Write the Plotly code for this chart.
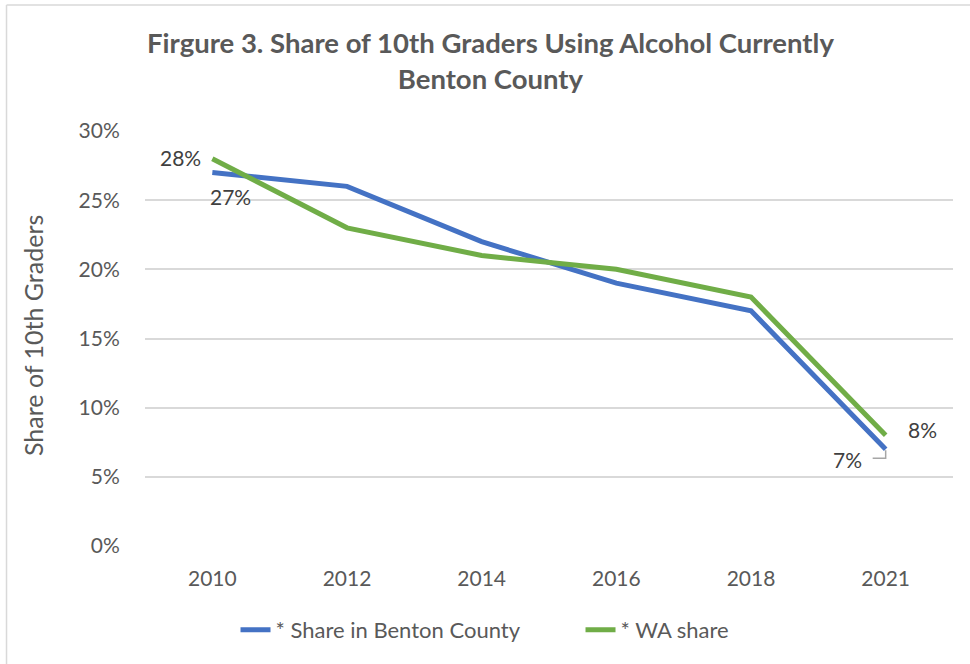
import plotly.graph_objects as go

years = ["2010", "2012", "2014", "2016", "2018", "2021"]
benton = [0.27, 0.26, 0.22, 0.19, 0.17, 0.07]
wa = [0.28, 0.23, 0.21, 0.20, 0.18, 0.08]
yticks = [0, 0.05, 0.10, 0.15, 0.20, 0.25, 0.30]

idx = list(range(len(years)))
FONT = "Lato"
TXT = "#595959"
LBL = "#404040"
BLUE = "#4472C4"
GREEN = "#70AD47"

fig = go.Figure()
fig.add_trace(go.Scatter(x=idx, y=benton, mode="lines", name="* Share in Benton County",
                         line=dict(color=BLUE, width=5)))
fig.add_trace(go.Scatter(x=idx, y=wa, mode="lines", name="* WA share",
                         line=dict(color=GREEN, width=5)))

ann = []
ann.append(dict(x=idx[0], y=wa[0], text=f"{wa[0]:.0%}", xref="x", yref="y", showarrow=False,
                xanchor="right", yanchor="middle", xshift=-9, yshift=1,
                font=dict(family=FONT, size=21, color=LBL)))
ann.append(dict(x=idx[0], y=benton[0], text=f"{benton[0]:.0%}", xref="x", yref="y", showarrow=False,
                xanchor="center", yanchor="middle", xshift=18, yshift=-24,
                font=dict(family=FONT, size=21, color=LBL)))
ann.append(dict(x=idx[-1], y=wa[-1], text=f"{wa[-1]:.0%}", xref="x", yref="y", showarrow=False,
                xanchor="left", yanchor="middle", xshift=20, yshift=6,
                font=dict(family=FONT, size=21, color=LBL)))
ann.append(dict(x=idx[-1], y=benton[-1], text=f"{benton[-1]:.0%}", xref="x", yref="y", showarrow=False,
                xanchor="right", yanchor="middle", xshift=-22, yshift=-10,
                font=dict(family=FONT, size=21, color=LBL)))
ann.append(dict(x=-0.1386, y=0.506, xref="paper", yref="paper", text="Share of 10th Graders",
                textangle=-90, showarrow=False, xanchor="center", yanchor="middle",
                font=dict(family=FONT, size=25, color=TXT)))
ann.append(dict(x=0.428, y=1.17, xref="paper", yref="paper",
                text="<b>Firgure 3. Share of 10th Graders Using Alcohol Currently<br>Benton County</b>",
                showarrow=False, xanchor="center", yanchor="middle", align="center",
                font=dict(family=FONT, size=27.5, color=TXT)))

shapes = []
lx = idx[-1] - 0.0965
shapes.append(dict(type="path", xref="x", yref="y",
                   path=f"M {lx},{benton[-1]-0.0065} L {idx[-1]},{benton[-1]-0.0065} L {idx[-1]},{benton[-1]-0.0008}",
                   line=dict(color="#A6A6A6", width=1.5)))
shapes.append(dict(type="line", xref="paper", yref="paper", x0=-0.1714, x1=-0.1714, y0=-0.3, y1=1.3036,
                   line=dict(color="#D9D9D9", width=1.5)))
shapes.append(dict(type="line", xref="paper", yref="paper", x0=-0.1714, x1=1.03, y0=1.3036, y1=1.3036,
                   line=dict(color="#D9D9D9", width=1.5)))

fig.update_layout(
    width=970, height=664,
    margin=dict(l=145, r=17, t=131, b=118),
    paper_bgcolor="white", plot_bgcolor="white",
    xaxis=dict(range=[-0.5, len(years) - 0.5], tickmode="array", tickvals=idx, ticktext=years,
               showgrid=False, zeroline=False, showline=False,
               ticks="outside", ticklen=14, tickcolor="rgba(0,0,0,0)",
               tickfont=dict(family=FONT, size=21, color=TXT)),
    yaxis=dict(range=[0, 0.30], tickmode="array", tickvals=yticks, tickformat=".0%",
               showgrid=True, gridcolor="#D9D9D9", gridwidth=1.5, zeroline=False, showline=False,
               ticks="outside", ticklen=20, tickcolor="rgba(0,0,0,0)",
               tickfont=dict(family=FONT, size=21, color=TXT)),
    legend=dict(orientation="h", x=0.539, xanchor="center", xref="paper", y=-0.202, yanchor="middle",
                entrywidth=300, entrywidthmode="pixels",
                font=dict(family=FONT, size=22, color=TXT)),
    annotations=ann, shapes=shapes, showlegend=True,
)
fig.write_html("out.html", post_script="document.body.style.margin='0px';",
               config={"displayModeBar": False})
